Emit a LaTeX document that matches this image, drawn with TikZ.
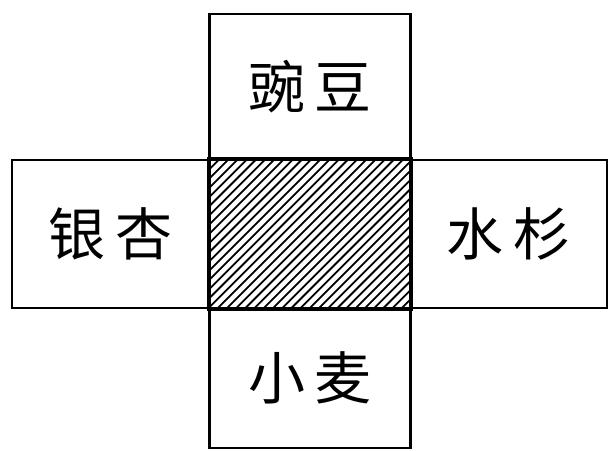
\documentclass[tikz,border=0pt]{standalone}
\usepackage{fontspec}
\newfontfamily\cjk{Noto Sans CJK SC}
\begin{document}
\begin{tikzpicture}[x=1pt,y=-1pt,
  box/.style={draw=black, line width=2.8pt, rectangle, inner sep=0pt,
    font=\cjk\fontsize{57}{60}\selectfont},
  hatchline/.style={line width=1.8pt, black}]
\useasboundingbox (0,0) rectangle (608,450);
\node[box, minimum width=201pt, minimum height=146pt] (top) at (310,87) {豌\hspace{10pt}豆};
\node[box, minimum width=197pt, minimum height=148pt] (left) at (110.5,234) {银\hspace{10pt}杏};
\node[box, minimum width=197pt, minimum height=148pt] (right) at (508.5,234) {水\hspace{10pt}杉};
\node[box, minimum width=201pt, minimum height=140pt] (bottom) at (310,378) {小\hspace{10pt}麦};
\node[box, minimum width=201pt, minimum height=148pt] (center) at (310,234) {};
\begin{scope}
  \clip (center.south west) rectangle (center.north east);
  \foreach \i in {0,...,40} {
    \draw[hatchline] ({209.5-148+9.2*\i},308) -- ({209.5+9.2*\i},160);
  }
\end{scope}
\draw[line width=2.8pt] (center.south west) rectangle (center.north east);
\end{tikzpicture}
\end{document}
